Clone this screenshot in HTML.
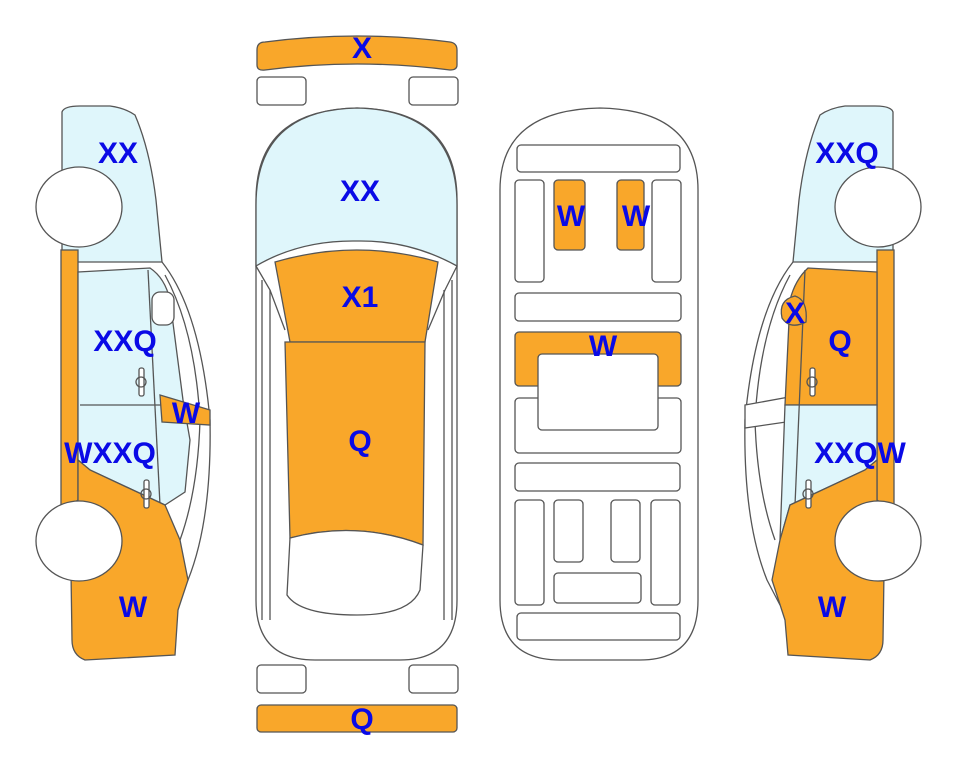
<!DOCTYPE html>
<html><head><style>body{margin:0;background:#fff}svg{display:block}
text{font-family:"Liberation Sans",Arial,sans-serif;font-weight:bold;fill:#0a0ae6;stroke:none;font-size:30px;text-anchor:middle}</style></head>
<body>
<svg width="963" height="768" viewBox="0 0 963 768" xmlns="http://www.w3.org/2000/svg" stroke="#555" stroke-width="1.3">
<!-- LEFT CAR -->
<g>
<path d="M62,112 Q64,106 80,106 L110,106 Q125,108 135,115 Q150,150 156,200 L162,262 L62,262 Z" fill="#dff6fb"/>
<path d="M162,262 Q200,310 210,420 Q212,520 188,580 L175,605" fill="none"/>
<path d="M165,275 Q195,330 200,420 Q198,490 180,540" fill="none"/>
<rect x="61" y="250" width="17" height="255" fill="#f9a72a"/>
<path d="M78,272 L150,268 Q165,278 170,300 L183,400 L190,440 L185,492 L165,505 L90,470 L78,460 Z" fill="#dff6fb"/>
<line x1="80" y1="405" x2="163" y2="405"/>
<line x1="148" y1="270" x2="160" y2="505"/>
<rect x="152" y="292" width="22" height="33" rx="8" fill="#fff"/>
<path d="M160,395 L210,410 L210,425 L162,422 Z" fill="#f9a72a"/>
<path d="M78,460 L90,470 L165,505 L180,540 L188,580 L178,610 L175,655 L85,660 Q72,655 72,640 L70,505 L78,500 Z" fill="#f9a72a"/>
<rect x="139" y="368" width="5" height="28" rx="2" fill="#fff"/><circle cx="141" cy="382" r="5" fill="none"/>
<rect x="144" y="480" width="5" height="28" rx="2" fill="#fff"/><circle cx="146" cy="494" r="5" fill="none"/>
<ellipse cx="79" cy="207" rx="43" ry="40" fill="#fff"/>
<ellipse cx="79" cy="541" rx="43" ry="40" fill="#fff"/>
<text x="118" y="163">XX</text>
<text x="125" y="351">XXQ</text>
<text x="186" y="423">W</text>
<text x="110" y="463">WXXQ</text>
<text x="133" y="617">W</text>
</g>
<!-- RIGHT CAR -->
<g>
<path d="M893,112 Q891,106 875,106 L845,106 Q830,108 820,115 Q805,150 799,200 L793,262 L893,262 Z" fill="#dff6fb"/>
<path d="M793,262 Q755,310 745,420 Q743,520 767,580 L780,605" fill="none"/>
<path d="M790,275 Q760,330 755,420 Q757,490 775,540" fill="none"/>
<path d="M745,405 L800,395 L800,420 L745,428 Z" fill="#fff"/>
<rect x="877" y="250" width="17" height="255" fill="#f9a72a"/>
<path d="M877,272 L808,268 Q795,280 790,300 L785,405 L877,405 Z" fill="#f9a72a"/>
<path d="M785,405 L877,405 L877,460 L865,470 L790,505 L780,540 Z" fill="#dff6fb"/>
<line x1="805" y1="270" x2="795" y2="505"/>
<path d="M782,318 Q778,300 795,296 Q808,300 806,322 Q790,330 782,318 Z" fill="#f9a72a"/>
<path d="M877,460 L865,470 L790,505 L780,540 L772,580 L785,620 L788,655 L870,660 Q883,655 883,640 L885,505 L877,500 Z" fill="#f9a72a"/>
<rect x="810" y="368" width="5" height="28" rx="2" fill="#fff"/><circle cx="812" cy="382" r="5" fill="none"/>
<rect x="806" y="480" width="5" height="28" rx="2" fill="#fff"/><circle cx="808" cy="494" r="5" fill="none"/>
<ellipse cx="878" cy="207" rx="43" ry="40" fill="#fff"/>
<ellipse cx="878" cy="541" rx="43" ry="40" fill="#fff"/>
<text x="847" y="163">XXQ</text>
<text x="795" y="323">X</text>
<text x="840" y="351">Q</text>
<text x="860" y="463">XXQW</text>
<text x="832" y="617">W</text>
</g>
<!-- TOP VIEW -->
<path d="M257,50 Q257,42 265,42 Q357,30 450,42 Q457,43 457,50 L457,65 Q457,70 450,70 Q357,58 265,70 Q257,71 257,65 Z" fill="#f9a72a"/>
<rect x="257" y="77" width="49" height="28" rx="4" fill="#fff"/>
<rect x="409" y="77" width="49" height="28" rx="4" fill="#fff"/>
<rect x="257" y="665" width="49" height="28" rx="4" fill="#fff"/>
<rect x="409" y="665" width="49" height="28" rx="4" fill="#fff"/>
<rect x="257" y="705" width="200" height="27" rx="4" fill="#f9a72a"/>
<path d="M256,200 Q256,110 357,108 Q457,110 457,200 L457,600 Q457,660 400,660 L315,660 Q256,660 256,600 Z" fill="#fff"/>
<path d="M256,205 Q256,110 357,108 Q457,110 457,205 L457,266 Q410,240 357,241 Q300,240 256,266 Z" fill="#dff6fb"/>
<path d="M256,266 L270,290 L285,330 M457,266 L445,290 L428,330" fill="none"/>
<path d="M262,280 L262,620 M452,280 L452,620 M270,290 L270,620 M444,290 L444,620" fill="none"/>
<path d="M275,262 Q357,238 438,262 L425,342 L290,342 Z" fill="#f9a72a"/>
<path d="M285,342 L425,342 L423,545 Q357,520 290,538 Z" fill="#f9a72a"/>
<path d="M290,538 Q357,520 423,545 L420,590 Q410,615 357,615 Q300,615 287,595 Z" fill="#fff"/>
<text x="362" y="58">X</text>
<text x="360" y="201">XX</text>
<text x="360" y="307">X1</text>
<text x="360" y="451">Q</text>
<text x="362" y="729">Q</text>
<!-- INTERIOR -->
<path d="M500,190 Q500,110 600,108 Q698,110 698,190 L698,600 Q698,660 640,660 L560,660 Q500,660 500,600 Z" fill="#fff"/>
<g fill="#fff">
<rect x="517" y="145" width="163" height="27" rx="4"/>
<rect x="515" y="180" width="29" height="102" rx="4"/>
<rect x="652" y="180" width="29" height="102" rx="4"/>
<rect x="554" y="180" width="31" height="70" rx="4" fill="#f9a72a"/>
<rect x="617" y="180" width="27" height="70" rx="4" fill="#f9a72a"/>
<rect x="515" y="293" width="166" height="28" rx="4"/>
<rect x="515" y="332" width="166" height="54" rx="4" fill="#f9a72a"/>
<rect x="515" y="398" width="166" height="55" rx="4"/>
<rect x="538" y="354" width="120" height="76" rx="4"/>
<rect x="515" y="463" width="165" height="28" rx="4"/>
<rect x="515" y="500" width="29" height="105" rx="4"/>
<rect x="554" y="500" width="29" height="62" rx="4"/>
<rect x="611" y="500" width="29" height="62" rx="4"/>
<rect x="651" y="500" width="29" height="105" rx="4"/>
<rect x="554" y="573" width="87" height="30" rx="4"/>
<rect x="517" y="613" width="163" height="27" rx="4"/>
</g>
<text x="571" y="226">W</text>
<text x="636" y="226">W</text>
<text x="603" y="356">W</text>
</svg>
</body></html>
